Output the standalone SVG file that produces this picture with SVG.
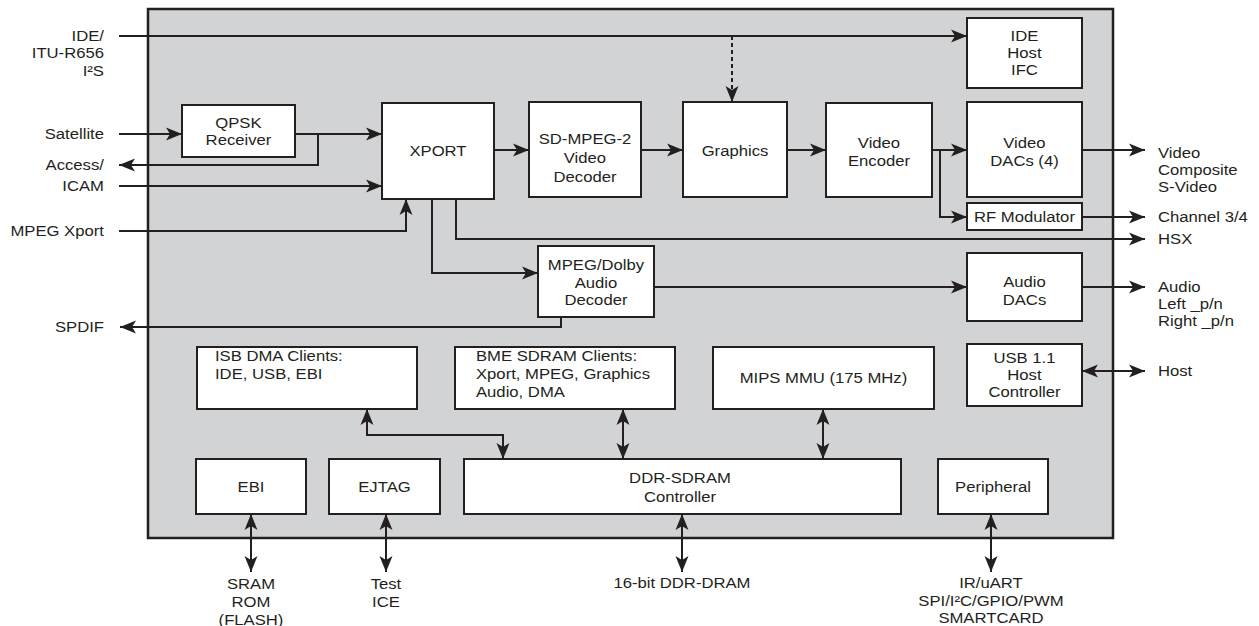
<svg xmlns="http://www.w3.org/2000/svg" width="1259" height="626" viewBox="0 0 1259 626">
<style>
.box{fill:#fff;stroke:#231f20;stroke-width:2}
.main{fill:#d1d3d4;stroke:#231f20;stroke-width:2.5}
.c{fill:none;stroke:#231f20;stroke-width:2}
.a{marker-end:url(#ah)}
.b{marker-start:url(#ah);marker-end:url(#ah)}
.d{stroke-dasharray:4 3}
text{font-family:"Liberation Sans",Arial,Helvetica,sans-serif;font-size:14.5px;fill:#231f20;transform-box:fill-box;transform:scaleX(1.15)}
.m{text-anchor:middle;transform-origin:center}
.e{text-anchor:end;transform-origin:right center}
.s{text-anchor:start;transform-origin:left center}
</style>
<defs>
<marker id="ah" markerUnits="userSpaceOnUse" markerWidth="18" markerHeight="14" refX="16" refY="7" orient="auto-start-reverse">
<path d="M0,0.5 L16,7 L0,13.5 L4,7 z" fill="#231f20"/>
</marker>
</defs>
<rect id="chip" class="main" x="148" y="9" width="965" height="529"/>
<g id="connectors">
<path class="c a" d="M119,36 H967"/>
<path class="c a d" d="M732,36 V102"/>
<path class="c a" d="M119,134 H182"/>
<path class="c a" d="M295,134 H382"/>
<path class="c a" d="M318,134 V165 H119"/>
<path class="c a" d="M119,186 H382"/>
<path class="c a" d="M119,231 H406 V199"/>
<path class="c a" d="M494,150 H529"/>
<path class="c a" d="M641,150 H683"/>
<path class="c a" d="M787,150 H826"/>
<path class="c a" d="M932,150 H967"/>
<path class="c a" d="M940,150 V217 H967"/>
<path class="c a" d="M1082,150 H1145"/>
<path class="c a" d="M1082,217 H1145"/>
<path class="c a" d="M456,199 V239 H1145"/>
<path class="c a" d="M432,199 V273 H538"/>
<path class="c a" d="M561,317 V327 H120"/>
<path class="c a" d="M654,287 H967"/>
<path class="c a" d="M1082,287 H1145"/>
<path class="c b" d="M1082,371 H1145"/>
<path class="c b" d="M367,409 V435 H503 V459"/>
<path class="c b" d="M623,409 V459"/>
<path class="c b" d="M823,409 V459"/>
<path class="c b" d="M251,514 V572"/>
<path class="c b" d="M386,514 V572"/>
<path class="c b" d="M682,514 V572"/>
<path class="c b" d="M991,514 V572"/>
</g>
<g id="ext-labels">
<text class="e" x="104" y="41">IDE/</text>
<text class="e" x="104" y="58.5">ITU-R656</text>
<text class="e" x="104" y="76">I²S</text>
<text class="e" x="104" y="139">Satellite</text>
<text class="e" x="104" y="170">Access/</text>
<text class="e" x="104" y="191">ICAM</text>
<text class="e" x="104" y="236">MPEG Xport</text>
<text class="e" x="104" y="332">SPDIF</text>
<text class="s" x="1158" y="158">Video</text>
<text class="s" x="1158" y="175">Composite</text>
<text class="s" x="1158" y="192">S-Video</text>
<text class="s" x="1158" y="222">Channel 3/4</text>
<text class="s" x="1158" y="244">HSX</text>
<text class="s" x="1158" y="292">Audio</text>
<text class="s" x="1158" y="309">Left _p/n</text>
<text class="s" x="1158" y="326">Right _p/n</text>
<text class="s" x="1158" y="376">Host</text>
<text class="m" x="251" y="589">SRAM</text>
<text class="m" x="251" y="607">ROM</text>
<text class="m" x="251" y="625">(FLASH)</text>
<text class="m" x="386" y="589">Test</text>
<text class="m" x="386" y="607">ICE</text>
<text class="m" x="682" y="588">16-bit DDR-DRAM</text>
<text class="m" x="991" y="588">IR/uART</text>
<text class="m" x="991" y="606">SPI/I²C/GPIO/PWM</text>
<text class="m" x="991" y="623">SMARTCARD</text>
</g>
<g id="ide-host"><rect class="box" x="967" y="18" width="115" height="70"/>
<text class="m" x="1024.5" y="41">IDE</text><text class="m" x="1024.5" y="58">Host</text><text class="m" x="1024.5" y="75">IFC</text></g>
<g id="qpsk"><rect class="box" x="182" y="105" width="113" height="52"/>
<text class="m" x="238.5" y="128">QPSK</text><text class="m" x="238.5" y="145">Receiver</text></g>
<g id="xport"><rect class="box" x="382" y="103" width="112" height="96"/>
<text class="m" x="438" y="156">XPORT</text></g>
<g id="sd-mpeg2"><rect class="box" x="529" y="102" width="112" height="95"/>
<text class="m" x="585" y="144">SD-MPEG-2</text><text class="m" x="585" y="163">Video</text><text class="m" x="585" y="182">Decoder</text></g>
<g id="graphics"><rect class="box" x="683" y="102" width="104" height="95"/>
<text class="m" x="735" y="156">Graphics</text></g>
<g id="video-encoder"><rect class="box" x="826" y="103" width="106" height="94"/>
<text class="m" x="879" y="148">Video</text><text class="m" x="879" y="166">Encoder</text></g>
<g id="video-dacs"><rect class="box" x="967" y="102" width="115" height="95"/>
<text class="m" x="1024.5" y="148">Video</text><text class="m" x="1024.5" y="166">DACs (4)</text></g>
<g id="rf-mod"><rect class="box" x="967" y="203" width="115" height="27"/>
<text class="m" x="1024.5" y="222">RF Modulator</text></g>
<g id="audio-decoder"><rect class="box" x="538" y="246" width="116" height="71"/>
<text class="m" x="596" y="270">MPEG/Dolby</text><text class="m" x="596" y="288">Audio</text><text class="m" x="596" y="305">Decoder</text></g>
<g id="audio-dacs"><rect class="box" x="967" y="253" width="115" height="68"/>
<text class="m" x="1024.5" y="287">Audio</text><text class="m" x="1024.5" y="305">DACs</text></g>
<g id="isb"><rect class="box" x="197" y="347" width="220" height="62"/>
<text class="s" x="215" y="361">ISB DMA Clients:</text><text class="s" x="215" y="379">IDE, USB, EBI</text></g>
<g id="bme"><rect class="box" x="455" y="347" width="220" height="62"/>
<text class="s" x="476" y="361">BME SDRAM Clients:</text><text class="s" x="476" y="379">Xport, MPEG, Graphics</text><text class="s" x="476" y="397">Audio, DMA</text></g>
<g id="mips"><rect class="box" x="713" y="347" width="221" height="62"/>
<text class="m" x="823.5" y="383">MIPS MMU (175 MHz)</text></g>
<g id="usb"><rect class="box" x="967" y="344" width="115" height="62"/>
<text class="m" x="1024.5" y="363">USB 1.1</text><text class="m" x="1024.5" y="380">Host</text><text class="m" x="1024.5" y="397">Controller</text></g>
<g id="ebi"><rect class="box" x="196" y="459" width="110" height="55"/>
<text class="m" x="251" y="492">EBI</text></g>
<g id="ejtag"><rect class="box" x="329" y="459" width="111" height="55"/>
<text class="m" x="384.5" y="492">EJTAG</text></g>
<g id="ddr"><rect class="box" x="464" y="459" width="437" height="55"/>
<text class="m" x="680" y="483">DDR-SDRAM</text><text class="m" x="680" y="502">Controller</text></g>
<g id="peripheral"><rect class="box" x="938" y="459" width="110" height="55"/>
<text class="m" x="993" y="492">Peripheral</text></g>
</svg>
